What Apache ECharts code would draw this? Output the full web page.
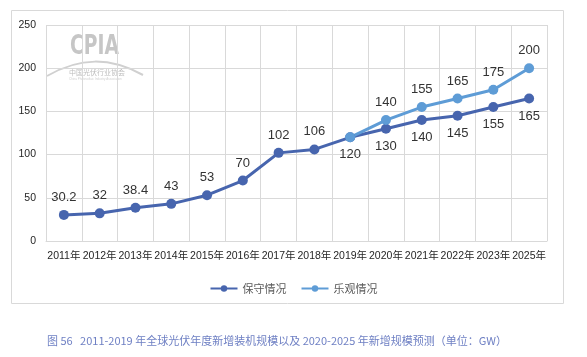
<!DOCTYPE html>
<html><head><meta charset="utf-8">
<script src="https://cdn.jsdelivr.net/npm/echarts@6/dist/echarts.min.js"></script>
<style>html,body{margin:0;padding:0;background:#fff}#c{width:587px;height:357px}</style>
</head><body><div id="c"></div>
<script>
var categories = ['2011年','2012年','2013年','2014年','2015年','2016年','2017年','2018年','2019年','2020年','2021年','2022年','2023年','2025年'];
var conservative = [30.2,32,38.4,43,53,70,102,106,120,130,140,145,155,165];
var optimistic = [null,null,null,null,null,null,null,null,120,140,155,165,175,200];
var yTicks = [0,50,100,150,200,250];
var seriesNames = ['保守情况','乐观情况'];
var caption = '图 56   2011-2019 年全球光伏年度新增装机规模以及 2020-2025 年新增规模预测（单位：GW）';

var FONT = '"Liberation Sans","Noto Sans CJK SC",sans-serif';
var c1 = '#4765ae', c2 = '#5e9cd6';
var chart = echarts.init(document.getElementById('c'));
var consData = conservative.map(function(v,i){
  return {value:v, label:{position: i>=8 ? 'bottom' : 'top'}};
});
var optData = optimistic.map(function(v,i){
  return i===8 ? {value:v, label:{show:false}} : v;
});
chart.setOption({
  animation:false,
  textStyle:{fontFamily:FONT},
  title:{text:caption,left:42,top:330,textStyle:{fontSize:11,fontWeight:'normal',color:'#6f80c4',fontFamily:'"Noto Sans CJK SC",sans-serif'}},
  graphic:[
    {type:'rect',shape:{x:11.5,y:10.5,width:552,height:293},style:{fill:'none',stroke:'#d9d9d9',lineWidth:1},z:-1},
    {type:'text',x:70,y:34,scaleX:0.72,style:{text:'CPIA',fontSize:26,fontWeight:'bold',fill:'#c6c6c6',fontFamily:'"DejaVu Sans",sans-serif'},z:-1},
    {type:'bezierCurve',shape:{x1:47,y1:76,cpx1:80,cpy1:57,x2:143,y2:75,cpx2:110,cpy2:57},style:{stroke:'#d0d0d0',lineWidth:2,fill:'none'},z:-1},
    {type:'text',left:69,top:69,style:{text:'中国光伏行业协会',fontSize:7,fill:'#bdbdbd',fontFamily:'"Noto Sans CJK SC",sans-serif'},z:-1},
    {type:'text',left:69,top:78,style:{text:'China Photovoltaic Industry Association',fontSize:3,fill:'#d0d0d0'},z:-1}
  ],
  legend:{
    data:seriesNames, left:'center', top:278, itemWidth:27, itemHeight:8, itemGap:14,
    textStyle:{fontSize:11,color:'#595959',fontFamily:'"Noto Sans CJK SC",sans-serif'}
  },
  grid:{left:46,right:40,top:25,bottom:116},
  xAxis:{
    type:'category',data:categories,boundaryGap:true,
    axisLine:{lineStyle:{color:'#d9d9d9'}},axisTick:{show:false},
    axisLabel:{interval:0,fontSize:10.5,color:'#262626',margin:10},
    splitLine:{show:true,lineStyle:{color:'#d9d9d9'}}
  },
  yAxis:{
    type:'value',min:yTicks[0],max:yTicks[yTicks.length-1],interval:50,
    axisLine:{show:false},axisTick:{show:false},
    axisLabel:{fontSize:10.5,color:'#262626',margin:10},
    splitLine:{lineStyle:{color:'#d9d9d9'}}
  },
  series:[
    {name:seriesNames[0],type:'line',data:consData,symbol:'circle',symbolSize:10,
     itemStyle:{color:c1},lineStyle:{width:3,color:c1},
     label:{show:true,fontSize:13,color:'#333333',distance:6}},
    {name:seriesNames[1],type:'line',data:optData,symbol:'circle',symbolSize:10,
     itemStyle:{color:c2},lineStyle:{width:3,color:c2},
     label:{show:true,position:'top',fontSize:13,color:'#333333',distance:6}}
  ]
});
</script></body></html>
